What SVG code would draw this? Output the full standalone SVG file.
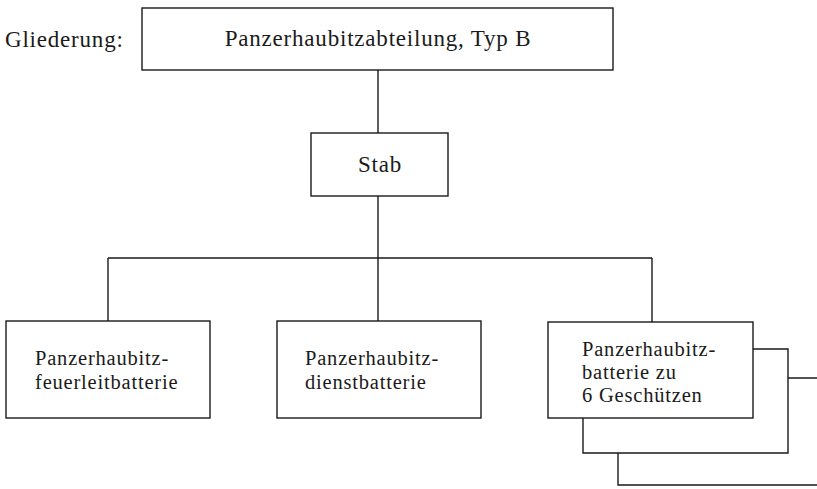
<svg xmlns="http://www.w3.org/2000/svg" width="817" height="489" viewBox="0 0 817 489">
<style>
.box{fill:#fff;stroke:#1a1a1a;stroke-width:1.4}
.ln{fill:none;stroke:#1a1a1a;stroke-width:1.4}
text{font-family:"Liberation Serif","Times New Roman",serif;fill:#1a1a1a}
.h{font-size:23px;letter-spacing:0.8px}
.b{font-size:20.5px;letter-spacing:0.8px}
</style>
<rect width="817" height="489" fill="#fff"/>
<text class="h" x="5" y="47">Gliederung:</text>
<g id="connectors">
<path class="ln" d="M378 70V133M378 196V321M108 258H652M108 258V321M652 258V322"/>
<path class="ln" d="M753 349H788V453H583V418M788 378H817M618 453V485H817"/>
</g>
<g id="abteilung"><rect class="box" x="142" y="8" width="471" height="62"/><text class="h" x="378" y="46" text-anchor="middle">Panzerhaubitzabteilung, Typ B</text></g>
<g id="stab"><rect class="box" x="311" y="133" width="137" height="63"/><text class="h" x="380" y="172" text-anchor="middle">Stab</text></g>
<g id="feuerleit"><rect class="box" x="6" y="321" width="204" height="97"/><text class="b" x="35" y="365">Panzerhaubitz-</text><text class="b" x="35" y="389">feuerleitbatterie</text></g>
<g id="dienst"><rect class="box" x="277" y="321" width="204" height="97"/><text class="b" x="305" y="365">Panzerhaubitz-</text><text class="b" x="305" y="389">dienstbatterie</text></g>
<g id="geschuetz"><rect class="box" x="548" y="322" width="205" height="96"/><text class="b" x="582" y="356">Panzerhaubitz-</text><text class="b" x="582" y="379">batterie zu</text><text class="b" x="582" y="402">6 Geschützen</text></g>
</svg>
